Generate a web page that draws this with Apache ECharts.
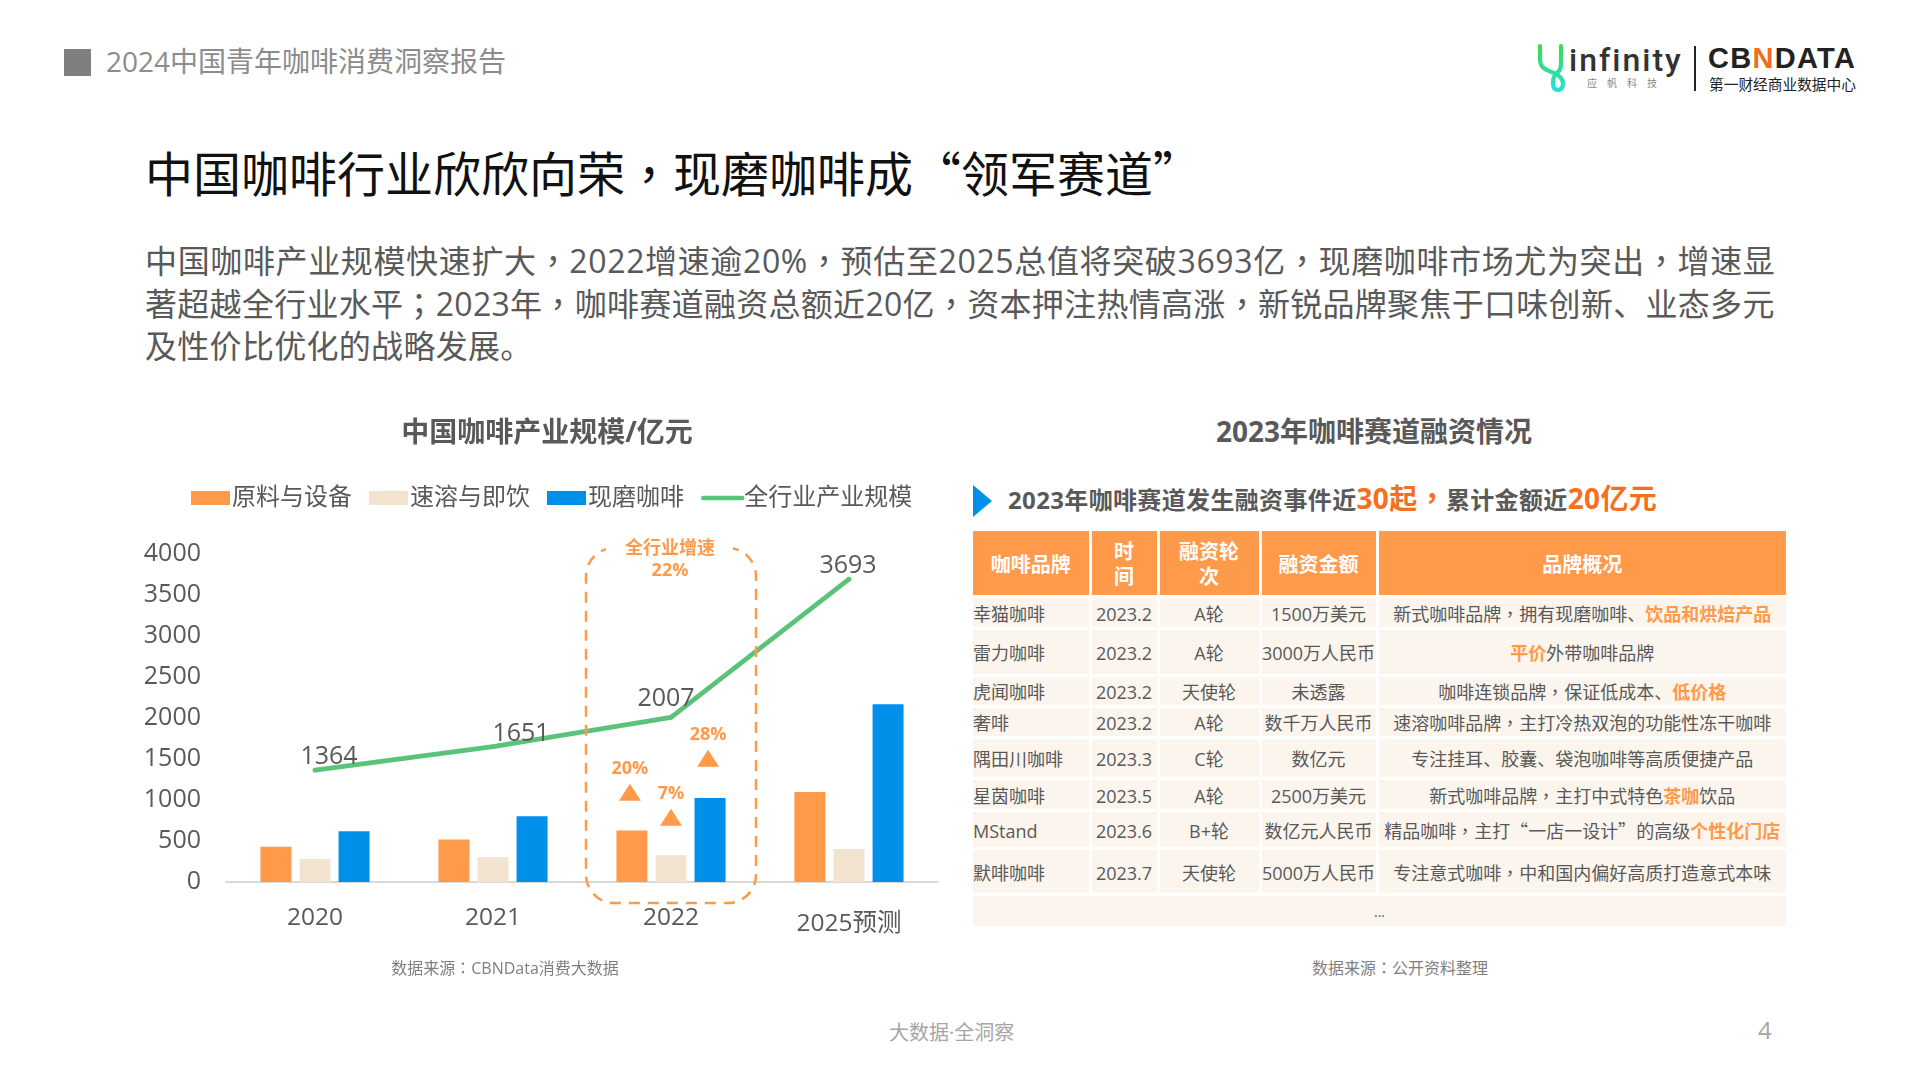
<!DOCTYPE html>
<html>
<head>
<meta charset="utf-8">
<script src="https://cdnjs.cloudflare.com/ajax/libs/echarts/6.0.0/echarts.min.js"></script>
<style>
    @font-face { font-family: "Punct"; font-weight: 400; src: local("Noto Sans CJK TC Regular"), local("Noto Sans CJK TC"); unicode-range: U+FF0C, U+FF1A, U+FF1B; }
    @font-face { font-family: "Punct"; font-weight: 700; src: local("Noto Sans CJK TC Bold"), local("Noto Sans CJK TC"); unicode-range: U+FF0C, U+FF1A, U+FF1B; }
    @font-face { font-family: "Punct"; font-weight: 400; src: local("Noto Sans CJK SC Regular"), local("Noto Sans CJK SC"); unicode-range: U+201C, U+201D; }
    html, body { margin: 0; padding: 0; background: #fff; }
    body { width: 1920px; height: 1080px; position: relative; overflow: hidden; font-family: "Punct", "Open Sans", "Noto Sans CJK SC", sans-serif; color: #595959; }
    .abs { position: absolute; white-space: nowrap; }
    #chart { position: absolute; left: 120px; top: 400px; width: 840px; height: 600px; }
    #table { position: absolute; left: 973px; top: 531px; width: 813px; border-collapse: collapse; table-layout: fixed; font-size: 18px; color: #595959; }
    #table th { background: #FF9A4A; color: #fff; font-size: 20px; font-weight: 700; line-height: 25px; padding: 3px 0 0; border-left: 3px solid #fff; text-align: center; }
    #table td { background: #FBF5EE; padding: 3px 0 0; border-left: 3px solid #fff; border-top: 3px solid #fff; text-align: center; white-space: nowrap; line-height: 24px; }
    #table th:first-child, #table td:first-child { border-left: 0; }
    #table td:first-child { text-align: left; }
    #table td.more { text-align: center; color: #595959; font-size: 14px; }
    #table b { color: #FF9A4A; font-weight: 700; }
</style>
</head>
<body>
    <div class="abs" style="left:64px;top:49px;width:27px;height:27px;background:#7F7F7F"></div>
    <div class="abs" id="report" style="left:106px;top:41px;font-size:28px;line-height:40px;color:#8C8C8C"></div>

    <!-- logos -->
    <svg class="abs" style="left:1536px;top:42px" width="34" height="52" viewBox="0 0 34 52">
        <defs><linearGradient id="lg" x1="0" y1="0" x2="0" y2="1"><stop offset="0" stop-color="#44D94F"/><stop offset="1" stop-color="#22E0D8"/></linearGradient></defs>
        <path d="M4 4 V18 Q4 26 13 29 Q27 34 27 41 Q27 48 22 48 Q17 48 17 41 Q17 33 22 30 Q25 27 25 22 V4" fill="none" stroke="url(#lg)" stroke-width="4.2" stroke-linecap="round"/>
    </svg>
    <div class="abs" style="left:1569px;top:37px;font-family:Roboto;font-weight:500;font-size:32px;line-height:46px;letter-spacing:2px;color:#333">infinity</div>
    <div class="abs" style="left:1587px;top:75px;font-size:10px;line-height:16px;letter-spacing:10px;color:#888">应帆科技</div>
    <div class="abs" style="left:1694px;top:46px;width:2px;height:45px;background:#222"></div>
    <div class="abs" style="left:1708px;top:39px;font-family:'Liberation Sans';font-weight:700;font-size:29px;line-height:38px;letter-spacing:1.3px;color:#222">CB<span style="color:#F26B21">N</span>DATA</div>
    <div class="abs" style="left:1709px;top:74px;font-size:14.7px;line-height:20px;color:#222">第一财经商业数据中心</div>

    <div class="abs" id="headline" style="left:145px;top:140px;font-size:48px;line-height:68px;color:#111"></div>
    <div class="abs" id="lead" style="left:145px;top:240px;font-size:32px;line-height:42.5px;letter-spacing:0.3px;color:#595959"></div>

    <div id="chart"></div>

    <div class="abs" id="tableTitle" style="left:1216px;top:411px;font-size:28px;line-height:40px;font-weight:700"></div>
    <svg class="abs" style="left:973px;top:485px" width="20" height="32"><polygon points="0,0 19,16 0,32" fill="#0090EA"/></svg>
    <div class="abs" style="left:1008px;top:478px;font-size:24px;line-height:40px;font-weight:700;letter-spacing:0.35px;color:#595959">2023年咖啡赛道发生融资事件近<span style="font-size:28px;color:#F4701E">30起，</span>累计金额近<span style="font-size:28px;color:#F4701E">20亿元</span></div>
    <table id="table"></table>
    <div class="abs" id="tableSource" style="left:1312px;top:956px;font-size:16px;line-height:24px;color:#7F7F7F"></div>

    <div class="abs" id="footer" style="left:889px;top:1020px;font-size:20px;line-height:26px;color:#A6A6A6"></div>
    <div class="abs" id="pageNo" style="left:1758px;top:1012px;font-size:24px;line-height:36px;color:#A6A6A6"></div>

<script type="text/javascript">
    var categories = ['2020', '2021', '2022', '2025预测'];
    var material = [430, 519, 628, 1098];
    var instant = [280, 304, 328, 401];
    var freshGround = [620, 802, 1025, 2168];
    var totalScale = [1364, 1651, 2007, 3693];
    var yTicks = 4000;
    var seriesNames = ['原料与设备', '速溶与即饮', '现磨咖啡', '全行业产业规模'];
    var growthLabels = ['20%', '7%', '28%'];
    var growthAt = [1094, 790, 1508];

    var reportName = '2024中国青年咖啡消费洞察报告';
    var headline = '中国咖啡行业欣欣向荣，现磨咖啡成“领军赛道”';
    var leadLines = [
        '中国咖啡产业规模快速扩大，2022增速逾20%，预估至2025总值将突破3693亿，现磨咖啡市场尤为突出，增速显',
        '著超越全行业水平；2023年，咖啡赛道融资总额近20亿，资本押注热情高涨，新锐品牌聚焦于口味创新、业态多元',
        '及性价比优化的战略发展。'
    ];
    var tableHead = ['咖啡品牌', '时<br>间', '融资轮<br>次', '融资金额', '品牌概况'];
    var brands = ['幸猫咖啡', '雷力咖啡', '虎闻咖啡', '奢啡', '隅田川咖啡', '星茵咖啡', 'MStand', '默啡咖啡'];
    var dates = ['2023.2', '2023.2', '2023.2', '2023.2', '2023.3', '2023.5', '2023.6', '2023.7'];
    var rounds = ['A轮', 'A轮', '天使轮', 'A轮', 'C轮', 'A轮', 'B+轮', '天使轮'];
    var amounts = ['1500万美元', '3000万人民币', '未透露', '数千万人民币', '数亿元', '2500万美元', '数亿元人民币', '5000万人民币'];
    var notes = [
        '新式咖啡品牌，拥有现磨咖啡、<b>饮品和烘焙产品</b>',
        '<b>平价</b>外带咖啡品牌',
        '咖啡连锁品牌，保证低成本、<b>低价格</b>',
        '速溶咖啡品牌，主打冷热双泡的功能性冻干咖啡',
        '专注挂耳、胶囊、袋泡咖啡等高质便捷产品',
        '新式咖啡品牌，主打中式特色<b>茶咖</b>饮品',
        '精品咖啡，主打“一店一设计”的高级<b>个性化门店</b>',
        '专注意式咖啡，中和国内偏好高质打造意式本味'
    ];

    document.getElementById('report').textContent = reportName;
    document.getElementById('headline').textContent = headline;
    // first line runs a bit wider on the slide
    document.getElementById('lead').innerHTML = '<span style="letter-spacing:0.64px">' + leadLines[0] + '</span><br>' + leadLines[1] + '<br>' + leadLines[2];
    document.getElementById('tableTitle').textContent = '2023年咖啡赛道融资情况';
    document.getElementById('tableSource').textContent = '数据来源：公开资料整理';
    document.getElementById('footer').textContent = '大数据·全洞察';
    document.getElementById('pageNo').textContent = '4';

    // table, row heights picked to line up with the slide
    var colWidths = [117, 68, 102, 117, 409];
    var rowHeights = [32, 47, 31, 31, 41, 32, 38, 46];
    var html = '<colgroup>' + colWidths.map(function (w) { return '<col style="width:' + w + 'px">'; }).join('') + '</colgroup>';
    html += '<tr style="height:65px">' + tableHead.map(function (t) { return '<th>' + t + '</th>'; }).join('') + '</tr>';
    for (var i = 0; i < brands.length; i++) {
        html += '<tr style="height:' + rowHeights[i] + 'px"><td>' + brands[i] + '</td><td>' + dates[i] + '</td><td>' + rounds[i] + '</td><td>' + amounts[i] + '</td><td>' + notes[i] + '</td></tr>';
    }
    html += '<tr style="height:32px"><td class="more" colspan="5">...</td></tr>';
    document.getElementById('table').innerHTML = html;

    var orange = '#FF9A4A';
    var chartFont = '"Punct", "Open Sans", "Noto Sans CJK SC", sans-serif';
    var myChart = echarts.init(document.getElementById('chart'), null, { renderer: 'canvas' });

    function growthPoint(k, dx) {
        return {
            coord: ['2022', growthAt[k]],
            symbolOffset: [dx, 0],
            label: { formatter: growthLabels[k] }
        };
    }
    function barSeries(name, data, color, mark) {
        var s = {
            name: name,
            type: 'bar',
            data: data,
            barWidth: 31,
            barGap: '26%',
            itemStyle: { color: color }
        };
        if (mark) {
            s.markPoint = {
                symbol: 'triangle',
                symbolSize: [22, 17],
                silent: true,
                itemStyle: { color: orange },
                label: { show: true, position: 'top', distance: 6, color: orange, fontSize: 18, fontWeight: 700, fontFamily: chartFont },
                data: [mark]
            };
        }
        return s;
    }
    // label nudges so numbers sit where the slide has them
    var lineLabelOffsets = [[14, 7], [28, 8], [-5, 2], [-1, 7]];

    var option = {
        animation: false,
        textStyle: { fontFamily: chartFont },
        title: [
            { text: '中国咖啡产业规模/亿元', left: 422, top: 15, textAlign: 'center', textStyle: { fontSize: 28, fontWeight: 700, color: '#595959', fontFamily: chartFont } },
            { text: '数据来源：CBNData消费大数据', left: 380, top: 556, textAlign: 'center', textStyle: { fontSize: 16, fontWeight: 400, color: '#7F7F7F', fontFamily: chartFont } }
        ],
        legend: {
            left: 66,
            top: 81,
            itemWidth: 39,
            itemHeight: 14,
            itemGap: 17,
            lineStyle: { width: 4.5, cap: 'round' },
            textStyle: { fontSize: 24, color: '#595959', fontFamily: chartFont, padding: [0, 0, 0, -3] },
            data: [
                { name: seriesNames[0], icon: 'rect' },
                { name: seriesNames[1], icon: 'rect' },
                { name: seriesNames[2], icon: 'rect' },
                { name: seriesNames[3], itemStyle: { opacity: 0 } }
            ]
        },
        grid: { left: 106, right: 22, top: 154, bottom: 118 },
        xAxis: {
            type: 'category',
            data: categories,
            axisTick: { show: false },
            axisLine: { lineStyle: { color: '#D9D9D9', width: 2 } },
            axisLabel: {
                interval: 0,
                margin: 24,
                fontSize: 24.5,
                color: '#595959',
                fontFamily: chartFont,
                formatter: function (v) { return v === '2025预测' ? '{low|' + v + '}' : v; },
                rich: { low: { fontSize: 24.5, color: '#595959', padding: [6, 0, 0, 0], fontFamily: chartFont } }
            }
        },
        yAxis: {
            type: 'value',
            min: 0,
            max: yTicks,
            interval: 500,
            splitLine: { show: false },
            axisLine: { show: false },
            axisTick: { show: false },
            axisLabel: { margin: 25, padding: [4, 0, 0, 0], fontSize: 25, color: '#595959', fontFamily: chartFont, formatter: function (v) { return String(v); } }
        },
        series: [
            barSeries(seriesNames[0], material, orange, growthPoint(0, -2)),
            barSeries(seriesNames[1], instant, '#F3E4D0', growthPoint(1, 0)),
            barSeries(seriesNames[2], freshGround, '#0090EA', growthPoint(2, -2)),
            {
                name: seriesNames[3],
                type: 'line',
                symbol: 'circle',
                symbolSize: 4.5,
                showSymbol: true,
                z: 3,
                lineStyle: { color: '#5BC27A', width: 4.8, cap: 'round', join: 'round' },
                itemStyle: { color: '#5BC27A' },
                data: totalScale.map(function (v, i) {
                    return { value: v, label: { offset: lineLabelOffsets[i] } };
                }),
                label: { show: true, position: 'top', distance: 6, fontSize: 25, color: '#595959', fontFamily: chartFont }
            }
        ],
        graphic: [
            {
                type: 'rect',
                z: 20,
                shape: { x: 466, y: 148, width: 170, height: 355, r: 28 },
                style: { fill: 'none', stroke: orange, lineWidth: 2.5, lineDash: [11, 8] }
            },
            { type: 'rect', z: 21, shape: { x: 486, y: 140, width: 127, height: 16 }, style: { fill: '#fff' } },
            {
                type: 'text',
                z: 22,
                x: 550,
                y: 138,
                style: { text: '全行业增速\n22%', align: 'center', fill: orange, font: '700 18px ' + chartFont, lineHeight: 22 }
            }
        ]
    };
    myChart.setOption(option);
    window.addEventListener('resize', myChart.resize);
</script>
</body>
</html>
